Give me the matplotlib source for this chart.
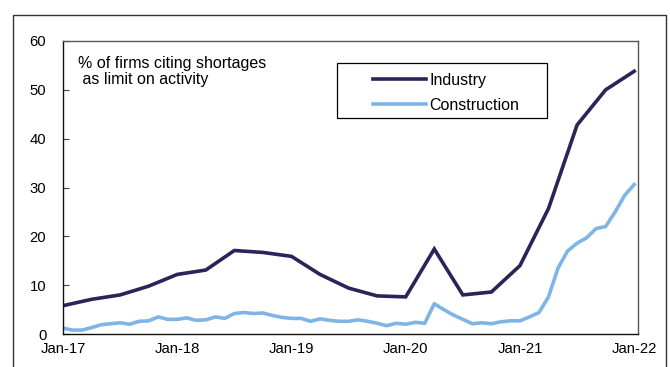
import matplotlib
matplotlib.use("Agg")
import matplotlib.pyplot as plt
from matplotlib.patches import Rectangle
import numpy as np

plt.rcParams['font.family'] = ['Liberation Sans', 'DejaVu Sans']

tick_labels = ["Jan-17", "Jan-18", "Jan-19", "Jan-20", "Jan-21", "Jan-22"]

# Industry: quarterly, Jan-17 .. Jan-22
industry = [5.8, 7.1, 8.0, 9.8, 12.2, 13.1, 17.1, 16.7, 15.9, 12.2, 9.4,
            7.8, 7.6, 17.4, 8.0, 8.6, 14.0, 25.7, 42.8, 50.0, 53.8]
# Construction: monthly, Jan-17 .. Jan-22
construction = [1.2, 0.8, 0.8, 1.3, 1.9, 2.1, 2.3, 2.0, 2.6, 2.7, 3.5, 3.0,
                3.0, 3.3, 2.8, 2.9, 3.5, 3.2, 4.2, 4.4, 4.2, 4.3, 3.8, 3.4,
                3.2, 3.2, 2.6, 3.1, 2.8, 2.6, 2.6, 2.9, 2.6, 2.2, 1.7, 2.2,
                2.0, 2.4, 2.2, 6.2, 5.0, 3.9, 3.0, 2.1, 2.3, 2.1, 2.5, 2.7,
                2.7, 3.5, 4.4, 7.6, 13.5, 17.0, 18.6, 19.7, 21.6, 22.0, 25.0,
                28.4, 30.6]

x_ind = np.arange(len(industry)) * 3
x_con = np.arange(len(construction))

fig = plt.figure(figsize=(6.7, 3.67), dpi=100)
ax = fig.add_axes([63/670, 1-334/367, (638-63)/670, (334-41)/367])

# outer frame
fig.patches.append(Rectangle((13/670, -0.1), (666-13)/670, 1.1 - 15/367,
                             transform=fig.transFigure, fill=False,
                             edgecolor='#333333', linewidth=1.0))

ax.plot(x_ind, industry, color='#2B2458', lw=2.6, label='Industry',
        solid_joinstyle='miter')
ax.plot(x_con, construction, color='#7FB5E6', lw=2.6, label='Construction')

ax.set_xlim(0, 60.4)
ax.set_ylim(0, 60)
ax.set_yticks(range(0, 61, 10))
ax.set_xticks(np.arange(0, 61, 12))
ax.set_xticklabels(tick_labels)
ax.tick_params(axis='both', direction='in', length=4, labelsize=10.7,
               color='#444444', labelcolor='black')
ax.tick_params(axis='x', length=0, pad=6)
ax.tick_params(axis='y', pad=12)
for s in ax.spines.values():
    s.set_color('#555555')
    s.set_linewidth(1.0)
ax.spines['left'].set_color('#111111')
ax.spines['bottom'].set_color('#111111')

ax.text((78-63)/575, (334-56)/293, "% of firms citing shortages\n as limit on activity",
        transform=ax.transAxes, fontsize=11.5, va='top', ha='left', linespacing=1.12)

# legend box
ax.add_patch(Rectangle(((337-63)/575, (334-118)/293), (547-337)/575, (118-63)/293,
                       transform=ax.transAxes, fill=False, edgecolor='black',
                       linewidth=0.9, zorder=5))
ax.legend(loc='upper left', bbox_to_anchor=((367-63)/575 - 0.012, (334-60)/293),
          frameon=False, fontsize=11.5, handlelength=3.3, handletextpad=0.25,
          labelspacing=0.62, borderpad=0.3)

fig.savefig("out.png", dpi=100)
